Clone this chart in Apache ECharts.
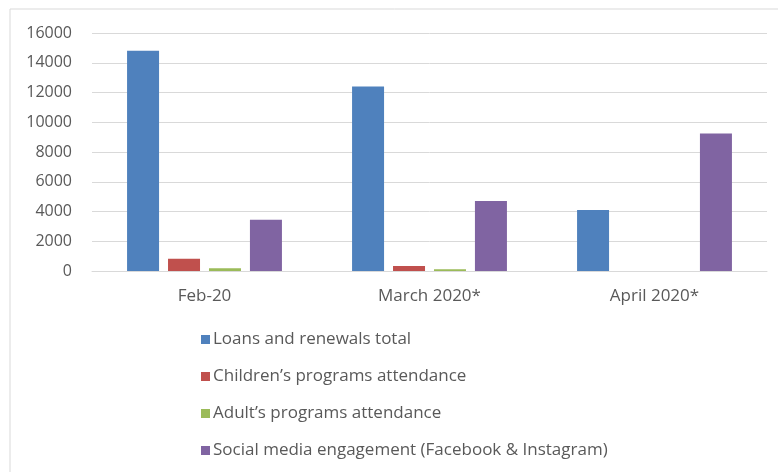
<!DOCTYPE html>
<html>
<head>
<meta charset="utf-8">
<script src="https://cdn.jsdelivr.net/npm/echarts@6/dist/echarts.min.js"></script>
<style>
  html, body { margin: 0; padding: 0; background: #fff; }
  #chart { width: 778px; height: 472px; }
</style>
</head>
<body>
<div id="chart"></div>
<script>
// Monthly library activity, before and during closure
const categories = ['Feb-20', 'March 2020*', 'April 2020*'];
const loansRenewals = [14800, 12400, 4100];
const childrenPrograms = [830, 330, 0];
const adultPrograms = [180, 110, 0];
const socialMedia = [3450, 4700, 9250];
const yTicks = [0, 2000, 4000, 6000, 8000, 10000, 12000, 14000, 16000];

const seriesNames = [
  'Loans and renewals total',
  'Children\u2019s programs attendance',
  'Adult\u2019s programs attendance',
  'Social media engagement (Facebook & Instagram)'
];
const seriesColors = ['#4F81BD', '#C0504D', '#9BBB59', '#8064A2'];
const seriesData = [loansRenewals, childrenPrograms, adultPrograms, socialMedia];

const font = '"Open Sans", Lato, sans-serif';
const textColor = '#595959';

const chart = echarts.init(document.getElementById('chart'), null, { renderer: 'canvas' });
chart.setOption({
  animation: false,
  backgroundColor: '#ffffff',
  textStyle: { fontFamily: font },
  graphic: [{
    type: 'rect',
    shape: { x: 10, y: 9, width: 800, height: 500 },
    style: { fill: 'none', stroke: '#d9d9d9', lineWidth: 1 },
    silent: true
  }],
  grid: { left: 92, right: 11, top: 33, bottom: 201, containLabel: false },
  legend: {
    orient: 'vertical',
    left: 196,
    top: 326,
    itemWidth: 9,
    itemHeight: 9,
    itemGap: 20,
    icon: 'rect',
    textStyle: { fontFamily: font, fontSize: 17, color: textColor, padding: [0, 0, 0, -2] },
    data: seriesNames
  },
  xAxis: {
    type: 'category',
    data: categories,
    axisLine: { show: true, lineStyle: { color: '#d9d9d9', width: 1 } },
    axisTick: { show: false },
    axisLabel: { fontFamily: font, fontSize: 17, color: textColor, margin: 17 }
  },
  yAxis: {
    type: 'value',
    min: yTicks[0],
    max: yTicks[yTicks.length - 1],
    interval: yTicks[1] - yTicks[0],
    axisLine: { show: false },
    axisTick: { show: false },
    splitLine: { lineStyle: { color: '#d9d9d9', width: 1 } },
    axisLabel: {
      fontFamily: font, fontSize: 16, color: textColor, margin: 20,
      formatter: v => String(v)
    }
  },
  series: seriesData.map((d, i) => ({
    name: seriesNames[i],
    type: 'bar',
    data: d,
    barWidth: 32,
    barGap: '28%',
    itemStyle: { color: seriesColors[i] }
  }))
});
</script>
</body>
</html>
